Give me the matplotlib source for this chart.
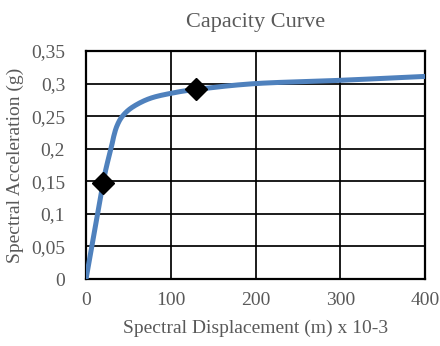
import matplotlib.pyplot as plt
from matplotlib.ticker import FuncFormatter
import numpy as np

# capacity curve samples (Sd in m x 10-3, Sa in g)
sd = [0, 20, 29.5, 32.5, 36.5, 43, 55, 75, 100, 130, 200, 300, 400]
sa = [0, 0.147, 0.200, 0.218, 0.235, 0.250, 0.264, 0.277, 0.285, 0.291, 0.300, 0.305, 0.311]
# performance points marked on the curve
mark_sd = [20, 130]
mark_sa = [0.147, 0.291]

xticks = [0, 100, 200, 300, 400]
yticks = [0, 0.05, 0.1, 0.15, 0.2, 0.25, 0.3, 0.35]

plt.rcParams['font.family'] = ['Liberation Serif', 'DejaVu Serif']
grey = '#595959'

fig = plt.figure(figsize=(4.4, 3.46), dpi=100)
ax = fig.add_axes([0.1955, 0.1936, 0.7705, 0.659])

# smooth the polyline a bit, like a spreadsheet "smoothed line"
def catmull(x, y, n=20):
    x = np.asarray(x, float); y = np.asarray(y, float)
    px = np.concatenate([[2*x[0]-x[1]], x, [2*x[-1]-x[-2]]])
    py = np.concatenate([[2*y[0]-y[1]], y, [2*y[-1]-y[-2]]])
    ox, oy = [], []
    t = np.linspace(0, 1, n, endpoint=False)
    for i in range(1, len(px)-2):
        for arr, out in ((px, ox), (py, oy)):
            p0, p1, p2, p3 = arr[i-1], arr[i], arr[i+1], arr[i+2]
            out.extend(0.5*((2*p1) + (-p0+p2)*t + (2*p0-5*p1+4*p2-p3)*t**2
                            + (-p0+3*p1-3*p2+p3)*t**3))
    ox.append(x[-1]); oy.append(y[-1])
    return ox, oy

cx, cy = catmull(sd, sa)
ax.plot(cx, cy, color='#4F81BD', lw=3.6, solid_capstyle='butt', zorder=3)
ax.plot(mark_sd, mark_sa, 'D', color='black', ms=11, zorder=4)

ax.set_xlim(0, 400)
ax.set_ylim(0, 0.35)
ax.set_xticks(xticks)
ax.set_yticks(yticks)
ax.yaxis.set_major_formatter(FuncFormatter(lambda v, p: ('%g' % round(v, 2)).replace('.', ',')))
ax.grid(True, color='black', lw=1.25)
ax.set_axisbelow(True)
for s in ax.spines.values():
    s.set_color('black')
    s.set_linewidth(1.6)
ax.tick_params(length=0, labelsize=14, colors=grey)
ax.tick_params(axis='y', pad=15)
ax.tick_params(axis='x', pad=9)

ax.set_title('Capacity Curve', fontsize=16, color=grey, pad=17)
ax.set_xlabel('Spectral Displacement (m) x 10-3', fontsize=14, color=grey, labelpad=8)
ax.set_ylabel('Spectral Acceleration (g)', fontsize=14, color=grey, labelpad=5)

fig.savefig('out.png', dpi=100)
